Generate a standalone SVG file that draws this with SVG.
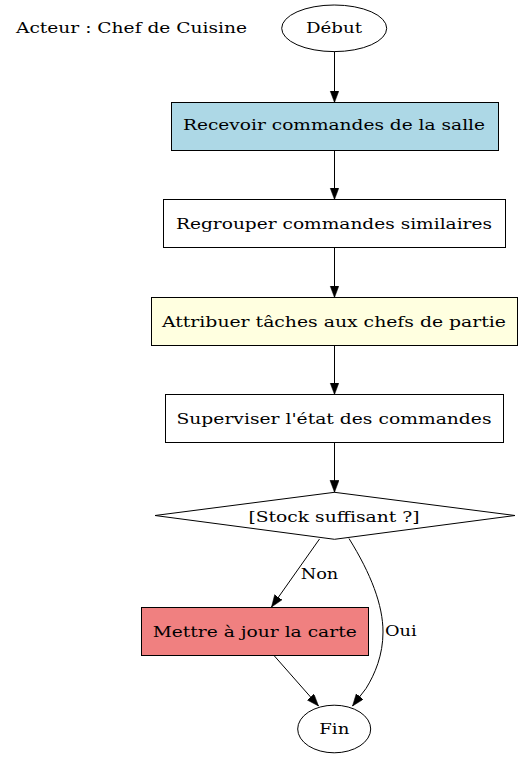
<svg xmlns="http://www.w3.org/2000/svg" width="523" height="759" viewBox="0 0 523 759">
<style>
text{font-family:"DejaVu Serif",serif;font-size:14.7px;fill:#000}
.n{text-anchor:middle}
.s{stroke:#000;stroke-width:1}
.e{fill:none;stroke:#000;stroke-width:1}
</style>
<defs>
<marker id="a" markerWidth="13" markerHeight="10" refX="12" refY="4.5" orient="auto" markerUnits="userSpaceOnUse">
<path d="M0,0 L12,4.5 L0,9 Z" fill="#000" stroke="#000" stroke-width="0.5"/>
</marker>
</defs>
<rect width="523" height="759" fill="#fff"/>
<g id="acteur"><text x="16" y="33" textLength="231" lengthAdjust="spacingAndGlyphs">Acteur : Chef de Cuisine</text></g>
<g id="debut"><ellipse class="s" cx="334.2" cy="28.3" rx="52.5" ry="23.3" fill="#fff"/><text class="n" x="334" y="33.3" textLength="56" lengthAdjust="spacingAndGlyphs">Début</text></g>
<g id="recevoir"><rect class="s" x="171.5" y="102.5" width="327" height="48" fill="#add8e6"/><text class="n" x="334" y="130" textLength="302" lengthAdjust="spacingAndGlyphs">Recevoir commandes de la salle</text></g>
<g id="regrouper"><rect class="s" x="163.5" y="199.5" width="342" height="48" fill="#fff"/><text class="n" x="334" y="229.3" textLength="316" lengthAdjust="spacingAndGlyphs">Regrouper commandes similaires</text></g>
<g id="attribuer"><rect class="s" x="151.5" y="297.5" width="366" height="48" fill="#ffffe0"/><text class="n" x="334" y="326.7" textLength="344" lengthAdjust="spacingAndGlyphs">Attribuer tâches aux chefs de partie</text></g>
<g id="superviser"><rect class="s" x="165.5" y="394.5" width="338" height="48" fill="#fff"/><text class="n" x="334" y="424" textLength="315" lengthAdjust="spacingAndGlyphs">Superviser l'état des commandes</text></g>
<g id="stock"><polygon class="s" points="334.5,492.3 515,515.5 334.5,539.3 155,515.5" fill="#fff"/><text class="n" x="334" y="521.7" textLength="171" lengthAdjust="spacingAndGlyphs">[Stock suffisant ?]</text></g>
<g id="mettre"><rect class="s" x="141.5" y="607.5" width="227" height="48" fill="#f08080"/><text class="n" x="254.7" y="636.7" textLength="204" lengthAdjust="spacingAndGlyphs">Mettre à jour la carte</text></g>
<g id="fin"><ellipse class="s" cx="334.2" cy="729" rx="36.5" ry="23.8" fill="#fff"/><text class="n" x="334.3" y="734" textLength="30" lengthAdjust="spacingAndGlyphs">Fin</text></g>
<g id="connectors">
<path class="e" d="M334.5,51.6 V102.5" marker-end="url(#a)"/>
<path class="e" d="M334.5,150.5 V199.5" marker-end="url(#a)"/>
<path class="e" d="M334.5,247.5 V297.5" marker-end="url(#a)"/>
<path class="e" d="M334.5,345.5 V394.5" marker-end="url(#a)"/>
<path class="e" d="M334.5,442.5 V492.3" marker-end="url(#a)"/>
<path class="e" d="M319.5,539 L271.5,607" marker-end="url(#a)"/>
<path class="e" d="M274,655.5 L318.5,706" marker-end="url(#a)"/>
<path class="e" d="M349,538.5 C371,574 383,605 383,632 C383,655 375,674 366,688.5 L352.5,706" marker-end="url(#a)"/>
<text x="300.7" y="579" textLength="37.6" lengthAdjust="spacingAndGlyphs">Non</text>
<text x="385" y="636" textLength="31.7" lengthAdjust="spacingAndGlyphs">Oui</text>
</g>
</svg>
